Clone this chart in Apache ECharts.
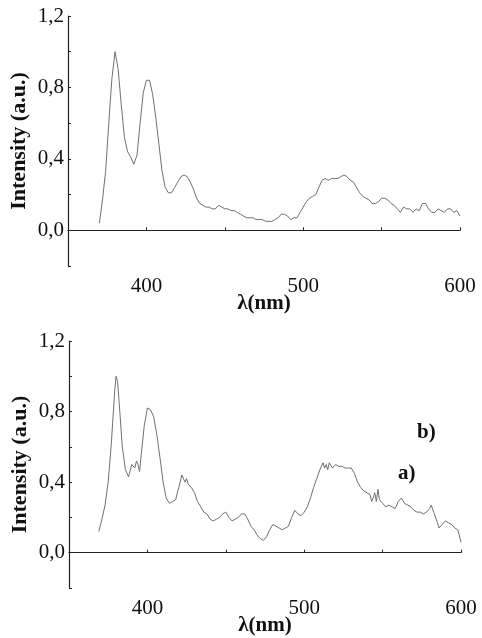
<!DOCTYPE html>
<html>
<head>
<meta charset="utf-8">
<script src="https://cdn.jsdelivr.net/npm/echarts@6/dist/echarts.min.js"></script>
<style>
  html, body { margin: 0; padding: 0; background: #fff; }
  #main { width: 482px; height: 638px; }
</style>
</head>
<body>
<div id="main"></div>
<script>
// spectre du haut (courbe a)
var lambdaA = [370,372,374,376,378,380,381,382,384,386,388,390,392,393,394,396,398,400,401,402,404,406,408,410,412,414,416,418,420,422,424,426,428,430,432,434,436,438,440,442,444,446,448,450,452,454,456,458,460,462,464,466,468,470,472,474,476,478,480,482,484,486,488,490,492,494,496,498,500,502,504,506,508,510,512,514,516,518,520,522,524,526,528,530,532,534,536,538,540,542,544,546,548,550,552,554,556,558,560,562,564,566,568,570,572,574,576,578,580,582,584,586,588,590,592,594,596,598,600];
var intensA = [0.04,0.17,0.33,0.60,0.85,1.00,0.99,0.90,0.70,0.52,0.44,0.41,0.37,0.36,0.42,0.60,0.77,0.84,0.85,0.84,0.76,0.63,0.48,0.33,0.24,0.21,0.21,0.24,0.27,0.30,0.31,0.30,0.27,0.23,0.18,0.15,0.14,0.13,0.13,0.12,0.12,0.14,0.13,0.12,0.12,0.11,0.11,0.10,0.09,0.08,0.07,0.07,0.07,0.06,0.06,0.06,0.05,0.05,0.05,0.06,0.07,0.09,0.09,0.08,0.06,0.07,0.07,0.10,0.13,0.16,0.18,0.19,0.20,0.24,0.28,0.29,0.28,0.29,0.29,0.29,0.30,0.31,0.30,0.28,0.27,0.24,0.21,0.19,0.18,0.17,0.15,0.15,0.16,0.18,0.18,0.17,0.15,0.14,0.12,0.10,0.13,0.12,0.12,0.10,0.12,0.11,0.15,0.15,0.12,0.10,0.10,0.12,0.11,0.10,0.12,0.12,0.10,0.11,0.08];

// spectre du bas (courbe b)
var lambdaB = [369,371,373,375,377,379,380,381,382,384,386,388,389,390,391,392,393,394,395,396,398,400,401,402,404,406,408,410,412,414,416,418,420,422,423,424,425,426,428,430,432,434,436,438,440,442,444,446,448,450,452,454,456,458,460,462,464,466,468,470,472,474,476,478,480,482,484,486,488,490,492,494,496,498,500,502,504,506,508,510,512,513,514,515,516,518,520,522,524,526,528,530,532,534,536,538,540,542,543,544,545,546,547,548,550,552,554,556,558,560,562,564,566,568,570,572,574,576,578,580,581,583,585,586,588,590,592,594,596,598,600];
var intensB = [0.12,0.19,0.27,0.40,0.62,0.90,1.00,0.97,0.85,0.60,0.47,0.43,0.44,0.50,0.51,0.48,0.52,0.50,0.46,0.55,0.72,0.82,0.83,0.81,0.77,0.67,0.54,0.40,0.31,0.28,0.29,0.30,0.37,0.44,0.45,0.40,0.42,0.39,0.37,0.34,0.29,0.26,0.23,0.22,0.19,0.18,0.19,0.20,0.22,0.23,0.20,0.18,0.19,0.20,0.22,0.22,0.19,0.15,0.13,0.10,0.08,0.07,0.09,0.13,0.16,0.15,0.14,0.13,0.14,0.15,0.20,0.24,0.22,0.21,0.23,0.26,0.31,0.37,0.42,0.47,0.51,0.48,0.50,0.47,0.51,0.48,0.50,0.49,0.49,0.48,0.48,0.48,0.45,0.40,0.37,0.35,0.34,0.33,0.29,0.31,0.34,0.29,0.36,0.30,0.28,0.26,0.27,0.26,0.25,0.29,0.31,0.28,0.27,0.26,0.24,0.23,0.23,0.22,0.23,0.25,0.27,0.22,0.17,0.14,0.16,0.18,0.17,0.16,0.14,0.13,0.06];

var xLabels = [400, 500, 600];
var yLabels = [0, 0.4, 0.8, 1.2];

function pairs(xs, ys) {
  var out = [];
  for (var i = 0; i < xs.length; i++) out.push([xs[i], ys[i]]);
  return out;
}

var serif = '"Liberation Serif", "DejaVu Serif", serif';
var axisCol = '#222';

function xAxisOpt(idx) {
  return {
    type: 'value', gridIndex: idx, min: 350, max: 600, interval: 50,
    name: 'λ(nm)', nameLocation: 'middle', nameGap: 27, nameMoveOverlap: false,
    nameTextStyle: { fontFamily: serif, fontWeight: 'bold', fontSize: 21, color: '#111' },
    axisLine: { lineStyle: { color: axisCol, width: 1.2 } },
    axisTick: { inside: true, length: 3, lineStyle: { color: axisCol } },
    axisLabel: {
      margin: 10, fontFamily: serif, fontSize: 21, color: '#111',
      formatter: function (v) { return xLabels.indexOf(Math.round(v)) >= 0 ? String(Math.round(v)) : ''; }
    },
    splitLine: { show: false }
  };
}

function yAxisOpt(idx) {
  return {
    type: 'value', gridIndex: idx, min: -0.2, max: 1.2, interval: 0.2,
    name: 'Intensity (a.u.)', nameLocation: 'middle', nameGap: 38, nameMoveOverlap: false,
    nameTextStyle: { fontFamily: serif, fontWeight: 'bold', fontSize: 22, color: '#111' },
    axisLine: { show: true, lineStyle: { color: axisCol, width: 1.2 } },
    axisTick: { show: true, inside: true, length: 3, lineStyle: { color: axisCol } },
    axisLabel: {
      margin: 4, fontFamily: serif, fontSize: 21, color: '#111',
      formatter: function (v) {
        var r = Math.round(v * 10) / 10;
        for (var i = 0; i < yLabels.length; i++) {
          if (Math.abs(yLabels[i] - r) < 1e-6) return r.toFixed(1).replace('.', ',');
        }
        return '';
      }
    },
    splitLine: { show: false }
  };
}

var lineStyle = { color: '#707070', width: 1 };

var chart = echarts.init(document.getElementById('main'), null, { renderer: 'canvas' });
chart.setOption({
  backgroundColor: '#fff',
  animation: false,
  grid: [
    { left: 68, right: 22, top: 16, height: 250, containLabel: false, outerBoundsMode: 'none' },
    { left: 69, right: 21, top: 341, height: 247, containLabel: false, outerBoundsMode: 'none' }
  ],
  xAxis: [xAxisOpt(0), xAxisOpt(1)],
  yAxis: [yAxisOpt(0), yAxisOpt(1)],
  series: [
    { type: 'line', xAxisIndex: 0, yAxisIndex: 0, data: pairs(lambdaA, intensA), showSymbol: false, lineStyle: lineStyle },
    { type: 'line', xAxisIndex: 1, yAxisIndex: 1, data: pairs(lambdaB, intensB), showSymbol: false, lineStyle: lineStyle }
  ],
  graphic: [
    { type: 'text', left: 417, top: 422, style: { text: 'b)', font: 'bold 21px ' + serif, fill: '#111' } },
    { type: 'text', left: 398, top: 463, style: { text: 'a)', font: 'bold 21px ' + serif, fill: '#111' } }
  ]
});
</script>
</body>
</html>
